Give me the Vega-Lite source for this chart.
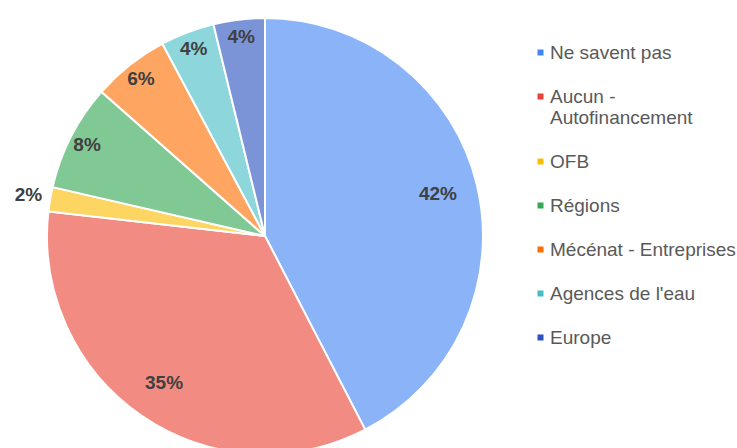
{
  "$schema": "https://vega.github.io/schema/vega-lite/v6.json",
  "width": 530,
  "height": 472,
  "autosize": {"type": "none"},
  "padding": {"left": 0, "top": 0, "right": 207, "bottom": 0},
  "background": "white",
  "config": {"view": {"stroke": null}},
  "data": {
    "values": [
      {"i": 0, "cat": "Ne savent pas", "value": 42.4, "label": "42%"},
      {"i": 1, "cat": "Aucun - Autofinancement", "value": 34.4, "label": "35%"},
      {"i": 2, "cat": "OFB", "value": 1.8, "label": "2%"},
      {"i": 3, "cat": "Régions", "value": 7.9, "label": "8%"},
      {"i": 4, "cat": "Mécénat - Entreprises", "value": 5.7, "label": "6%"},
      {"i": 5, "cat": "Agences de l'eau", "value": 4.0, "label": "4%"},
      {"i": 6, "cat": "Europe", "value": 3.8, "label": "4%"}
    ]
  },
  "encoding": {
    "theta": {"field": "value", "type": "quantitative", "stack": true},
    "order": {"field": "i", "type": "quantitative"}
  },
  "layer": [
    {
      "mark": {"type": "arc", "outerRadius": 218, "stroke": "white", "strokeWidth": 2, "fillOpacity": 0.62},
      "encoding": {
        "color": {
          "field": "cat",
          "type": "nominal",
          "sort": null,
          "scale": {
            "domain": ["Ne savent pas", "Aucun - Autofinancement", "OFB", "Régions", "Mécénat - Entreprises", "Agences de l'eau", "Europe"],
            "range": ["#4285F4", "#EA4335", "#FBBC04", "#34A853", "#FF6D01", "#46BDC6", "#2A52C0"]
          },
          "legend": {
            "orient": "none",
            "legendX": 531,
            "legendY": 43,
            "padding": 0,
            "title": null,
            "symbolType": "square",
            "symbolSize": 36,
            "symbolOpacity": 1,
            "symbolFillOpacity": 1,
            "symbolStrokeWidth": 0,
            "labelFont": "Liberation Sans",
            "labelFontSize": 19,
            "labelColor": "#595959",
            "labelOffset": 0,
            "labelLimit": 300,
            "rowPadding": 24,
            "labelExpr": "datum.label == 'Aucun - Autofinancement' ? ['Aucun -', 'Autofinancement'] : datum.label",
            "encode": {"labels": {"update": {"lineHeight": {"value": 23}}}}
          }
        }
      }
    },
    {
      "mark": {"type": "text", "radius": 178, "font": "Liberation Sans", "fontSize": 19, "fontWeight": "bold", "fill": "#404040"},
      "encoding": {
        "text": {"condition": {"test": "datum.value >= 20", "field": "label"}, "value": ""}
      }
    },
    {
      "mark": {"type": "text", "radius": 200, "font": "Liberation Sans", "fontSize": 19, "fontWeight": "bold", "fill": "#404040"},
      "encoding": {
        "text": {"condition": {"test": "datum.value >= 3 && datum.value < 20", "field": "label"}, "value": ""}
      }
    },
    {
      "mark": {"type": "text", "radius": 240, "font": "Liberation Sans", "fontSize": 19, "fontWeight": "bold", "fill": "#404040"},
      "encoding": {
        "text": {"condition": {"test": "datum.value < 3", "field": "label"}, "value": ""}
      }
    }
  ]
}
